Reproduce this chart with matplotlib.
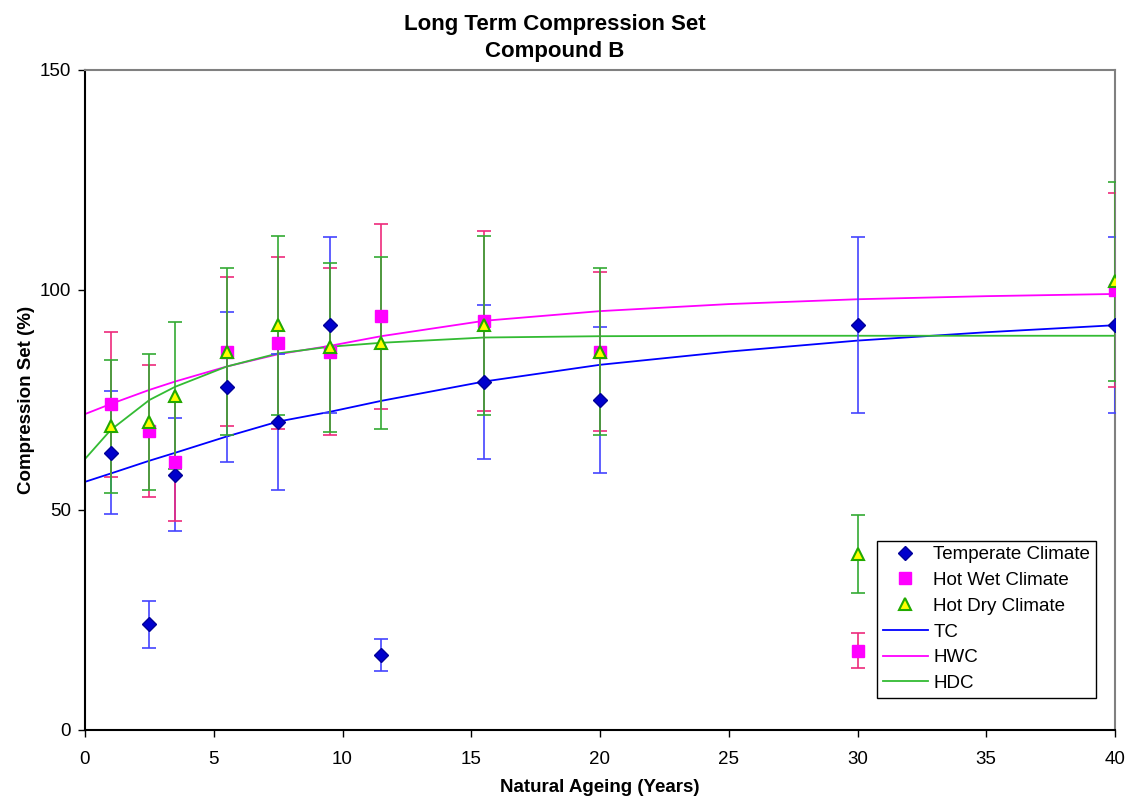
import matplotlib
matplotlib.use("Agg")
from matplotlib import pyplot as plt
from matplotlib.lines import Line2D

plt.rcParams['font.family'] = ['Liberation Sans', 'DejaVu Sans']

# Natural ageing years of the samples
years = [1, 2.5, 3.5, 5.5, 7.5, 9.5, 11.5, 15.5, 20, 30, 40]

# Temperate climate
tc_vals = [63, 24, 58, 78, 70, 92, 17, 79, 75, 92, 92]
tc_err = [14, 5.3, 12.8, 17, 15.5, 20, 3.7, 17.5, 16.5, 20, 20]

# Hot wet climate
hw_vals = [74, 68, 61, 86, 88, 86, 94, 93, 86, 18, 100]
hw_err = [16.4, 15, 13.5, 17, 19.5, 19, 21, 20.5, 18, 4, 22]

# Hot dry climate
hd_vals = [69, 70, 76, 86, 92, 87, 88, 92, 86, 40, 102]
hd_err = [15.2, 15.5, 16.7, 19, 20.3, 19.2, 19.5, 20.3, 19, 8.8, 22.6]

# Trend lines
trend_x = [0, 1, 2.5, 3.5, 5.5, 7.5, 9.5, 11.5, 15.5, 20, 25, 30, 35, 40]
trend_tc = [56.4, 58.3, 61.2, 63.0, 66.7, 70.1, 72.3, 74.8, 79.2, 83.0, 86.0, 88.5, 90.4, 92.0]
trend_hwc = [71.8, 74.1, 77.3, 79.2, 82.6, 85.4, 87.3, 89.5, 93.0, 95.2, 96.8, 97.9, 98.6, 99.1]
trend_hdc = [61.6, 68.2, 75.0, 78.0, 82.6, 85.6, 87.1, 88.0, 89.2, 89.5, 89.6, 89.6, 89.6, 89.6]

fig = plt.figure(figsize=(11.29, 8), dpi=100)
ax = fig.add_axes([85 / 1129, 70 / 800, 1030 / 1129, 660 / 800])

# trend lines
ax.plot(trend_x, trend_tc, color='#0000FF', lw=1.3, zorder=2)
ax.plot(trend_x, trend_hwc, color='#FF00FF', lw=1.3, zorder=2)
ax.plot(trend_x, trend_hdc, color='#33BB33', lw=1.3, zorder=2)

# error bars
ax.errorbar(years, tc_vals, yerr=tc_err, fmt='none', ecolor='#4444FF', elinewidth=1.2, capsize=5, capthick=1.2, zorder=3)
ax.errorbar(years, hw_vals, yerr=hw_err, fmt='none', ecolor='#EE2A7B', elinewidth=1.2, capsize=5, capthick=1.2, zorder=3)
ax.errorbar(years, hd_vals, yerr=hd_err, fmt='none', ecolor='#33AA33', elinewidth=1.2, capsize=5, capthick=1.2, zorder=3)

# markers
ax.plot(years, tc_vals, 'D', color='#0000CC', mec='#000099', ms=7, ls='none', zorder=4)
ax.plot(years, hw_vals, 's', color='#FF00FF', mec='#FF00FF', ms=8, ls='none', zorder=4)
ax.plot(years, hd_vals, '^', color='#FFFF00', mec='#22AA00', mew=1.5, ms=8, ls='none', zorder=5)

ax.set_xlim(0, 40)
ax.set_ylim(0, 150)
ax.set_xticks(range(0, 41, 5))
ax.set_yticks([0, 50, 100, 150])
ax.tick_params(direction='out', length=5, labelsize=13.5, width=1)
ax.tick_params(axis='x', pad=10)
ax.tick_params(axis='y', pad=5)

ax.spines['left'].set_color('black')
ax.spines['bottom'].set_color('black')
ax.spines['top'].set_color('#808080')
ax.spines['right'].set_color('#808080')
for s in ax.spines.values():
    s.set_linewidth(1.5)

ax.set_xlabel('Natural Ageing (Years)', fontsize=13.5, fontweight='bold')
ax.set_ylabel('Compression Set (%)', fontsize=13.5, fontweight='bold')
ax.xaxis.set_label_coords(0.5, -0.075)
ax.yaxis.set_label_coords(-0.049, 0.5)
fig.text(555 / 1129, 0.982, 'Long Term Compression Set\nCompound B', ha='center', va='top',
         fontsize=16, fontweight='bold', linespacing=1.35)

handles = [
    Line2D([], [], marker='D', color='#0000CC', mec='#000099', ms=7, ls='none'),
    Line2D([], [], marker='s', color='#FF00FF', mec='#FF00FF', ms=8, ls='none'),
    Line2D([], [], marker='^', color='#FFFF00', mec='#22AA00', mew=1.5, ms=8, ls='none'),
    Line2D([], [], color='#0000FF', lw=1.3),
    Line2D([], [], color='#FF00FF', lw=1.3),
    Line2D([], [], color='#33BB33', lw=1.3),
]
labels = ['Temperate Climate', 'Hot Wet Climate', 'Hot Dry Climate', 'TC', 'HWC', 'HDC']
leg = ax.legend(handles, labels, loc='lower left', bbox_to_anchor=(0.769, 0.049), fontsize=13.5,
                frameon=True, fancybox=False, framealpha=1, edgecolor='black',
                borderaxespad=0, handlelength=2.4, handletextpad=0.3, labelspacing=0.46, borderpad=0.3)
leg.get_frame().set_linewidth(1)

fig.savefig('out.png', dpi=100)
